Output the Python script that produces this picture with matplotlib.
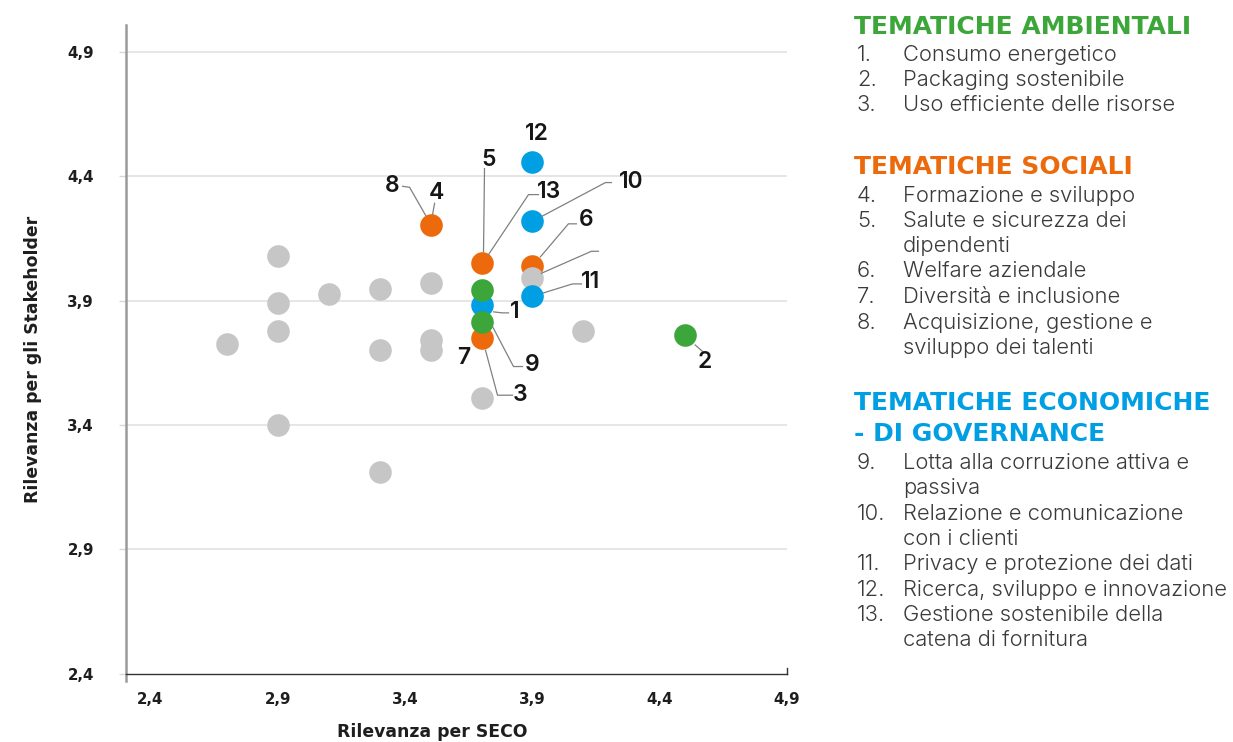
import matplotlib
matplotlib.use("Agg")
import matplotlib.pyplot as plt
import matplotlib.transforms as mtransforms

# ---- data -------------------------------------------------------------
# Materiality matrix: x = relevance for SECO, y = relevance for stakeholders
other_x = [2.7, 2.9, 2.9, 2.9, 2.9, 3.1, 3.3, 3.3, 3.3, 3.5, 3.5, 3.5, 3.7, 3.9, 4.1]
other_y = [3.725, 4.08, 3.892, 3.779, 3.40, 3.928, 3.948, 3.702, 3.211, 3.97, 3.742, 3.702, 3.508, 3.99, 3.779]

social_x = [3.5, 3.7, 3.9, 3.7]
social_y = [4.203, 4.053, 4.04, 3.749]

governance_x = [3.9, 3.9, 3.9, 3.7]
governance_y = [4.459, 4.222, 3.919, 3.883]

environmental_x = [3.7, 3.7, 4.5]
environmental_y = [3.943, 3.816, 3.762]

x_ticks = [2.4, 2.9, 3.4, 3.9, 4.4, 4.9]
y_ticks = [2.4, 2.9, 3.4, 3.9, 4.4, 4.9]
tick_labels = ["2,4", "2,9", "3,4", "3,9", "4,4", "4,9"]

x_label = "Rilevanza per SECO"
y_label = "Rilevanza per gli Stakeholder"

env_title = ["TEMATICHE AMBIENTALI"]
env_items = ["Consumo energetico", "Packaging sostenibile", "Uso efficiente delle risorse"]
soc_title = ["TEMATICHE SOCIALI"]
soc_items = ["Formazione e sviluppo", "Salute e sicurezza dei\ndipendenti",
             "Welfare aziendale", "Diversità e inclusione",
             "Acquisizione, gestione e\nsviluppo dei talenti"]
gov_title = ["TEMATICHE ECONOMICHE", "- DI GOVERNANCE"]
gov_items = ["Lotta alla corruzione attiva e\npassiva", "Relazione e comunicazione\ncon i clienti",
             "Privacy e protezione dei dati", "Ricerca, sviluppo e innovazione",
             "Gestione sostenibile della\ncatena di fornitura"]

# ---- style ------------------------------------------------------------
GREEN = "#3DA63A"
ORANGE = "#EC6A0C"
BLUE = "#009FE3"
GRAY = "#C6C6C6"
FONT = "Inter"
BOLD_FONT = "DejaVu Sans"

W, H = 1233, 742
fig = plt.figure(figsize=(W / 100, H / 100), dpi=100)
ax = fig.add_axes([126 / W, 1 - 673.7 / H, (787 - 126) / W, (673.7 - 25) / H])
ax.set_xlim(2.4 - (150.5 - 126) / 254.0, 4.9)
ax.set_ylim(2.4, 2.4 + (673.7 - 25) / 248.7)

ms = 265
ax.scatter(social_x, social_y, s=ms, color=ORANGE, linewidths=0, zorder=3)
ax.scatter(other_x, other_y, s=ms, color=GRAY, linewidths=0, zorder=4)
ax.scatter(governance_x, governance_y, s=ms, color=BLUE, linewidths=0, zorder=5)
ax.scatter(environmental_x, environmental_y, s=ms, color=GREEN, linewidths=0, zorder=6)

# grid and axes
for yv in y_ticks[1:]:
    ax.axhline(yv, color="#E2E2E2", lw=1.2, zorder=1)
for side in ("top", "right"):
    ax.spines[side].set_visible(False)
ax.spines["left"].set_color("#9A9A9A")
ax.spines["left"].set_linewidth(1.8)
ax.spines["left"].set_bounds(2.4 - 7 / 248.7, ax.get_ylim()[1])
ax.spines["bottom"].set_color("#333333")
ax.spines["bottom"].set_linewidth(1.0)
ax.spines["left"].set_zorder(2)

ax.set_xticks(x_ticks)
ax.set_xticklabels(tick_labels)
ax.set_yticks(y_ticks)
ax.set_yticklabels(tick_labels)
ax.tick_params(axis="x", length=0, pad=13, labelsize=10.8, labelcolor="#1E1E1E")
ax.tick_params(axis="y", length=5, width=1.0, color="#D8D8D8", pad=18, labelsize=10.8,
               labelcolor="#1E1E1E")
for lab in ax.get_xticklabels() + ax.get_yticklabels():
    lab.set_fontfamily(BOLD_FONT)
    lab.set_fontweight("bold")
ax.yaxis.get_major_ticks()[0].tick1line.set_color("#333333")
# end mark on the horizontal axis
ax.plot([4.9, 4.9], [0, 6 / (673.7 - 25)], transform=ax.get_xaxis_transform(),
        color="#333333", lw=1.0, clip_on=False)

fig.text(432 / W, 1 - 732 / H, x_label, ha="center", va="center",
         fontsize=12.4, fontweight="bold", family=BOLD_FONT, color="#1E1E1E")
fig.text(33 / W, 1 - 359 / H, y_label, ha="center", va="center", rotation=90,
         fontsize=12.4, fontweight="bold", family=BOLD_FONT, color="#1E1E1E")

# ---- point labels with leader lines (offsets in pixels) -------------------
def tag(x, y, text, dx, dy, leader=None):
    base = mtransforms.ScaledTranslation(x, y, ax.transData)
    trans = mtransforms.IdentityTransform() + base
    if leader:
        xs = [p[0] for p in leader]
        ys = [p[1] for p in leader]
        ax.plot(xs, ys, transform=trans, color="#808080", lw=0.9, zorder=7, clip_on=False)
    if text:
        ax.text(dx, dy, text, transform=trans, ha="center", va="center", fontsize=16.5,
                family=FONT, fontweight="semibold", color="#161616", zorder=8)

tag(governance_x[0], governance_y[0], "12", 4, 28)
tag(social_x[1], social_y[1], "5", 7, 103, [(3, 94), (2, 11)])
tag(social_x[1], social_y[1], "13", 68, 71, [(7, 8), (47, 68), (57, 68)])
tag(social_x[0], social_y[0], "4", 6, 32, [(4, 22), (2, 11)])
tag(social_x[0], social_y[0], "8", -38, 39, [(-28, 39), (-21, 38), (-5, 10)])
tag(governance_x[1], governance_y[1], "10", 99, 39, [(9, 4), (73, 38), (79, 38)])
tag(social_x[2], social_y[2], "6", 54, 46, [(8, 9), (36, 42), (44, 42)])
tag(other_x[13], other_y[13], "", 0, 0, [(9, 5), (59, 27), (66, 27)])
tag(governance_x[2], governance_y[2], "11", 58, 14, [(11, 3), (40, 12), (49, 12)])
tag(governance_x[3], governance_y[3], "1", 33, -7, [(12, -7), (21, -8), (27, -8)])
tag(environmental_x[1], environmental_y[1], "9", 51, -43, [(11, -5), (32, -45), (41, -45)])
tag(social_x[3], social_y[3], "7", -18, -20)
tag(social_x[3], social_y[3], "3", 39, -57, [(4, -12), (16, -57), (31, -57)])
tag(environmental_x[2], environmental_y[2], "2", 20, -27, [(10, -10), (18, -17)])

# ---- side legend ------------------------------------------------------------
TXT = "#3A3A3A"
ITEM_SIZE = 15.8


def fy(py):
    return 1 - py / H


def heading(py, lines, color):
    for i, ln in enumerate(lines):
        fig.text(854 / W, fy(py + 31 * i), ln, ha="left", va="center", fontsize=18,
                 fontweight="bold", family=BOLD_FONT, color=color)


def item_block(py, num, text):
    fig.text(857 / W, fy(py), f"{num}.", ha="left", va="center", fontsize=ITEM_SIZE,
             fontweight=300, family=FONT, color=TXT)
    for i, ln in enumerate(text.split("\n")):
        fig.text(903 / W, fy(py + 25.3 * i), ln, ha="left", va="center", fontsize=ITEM_SIZE,
                 fontweight=300, family=FONT, color=TXT)


heading(27, env_title, GREEN)
for py, n, t in zip([55, 80, 105], [1, 2, 3], env_items):
    item_block(py, n, t)

heading(167, soc_title, ORANGE)
for py, n, t in zip([196, 221, 271, 297, 323], [4, 5, 6, 7, 8], soc_items):
    item_block(py, n, t)

heading(403, gov_title, BLUE)
for py, n, t in zip([463, 514, 564, 590, 615], [9, 10, 11, 12, 13], gov_items):
    item_block(py, n, t)

fig.savefig("out.png", dpi=100, facecolor="white")
